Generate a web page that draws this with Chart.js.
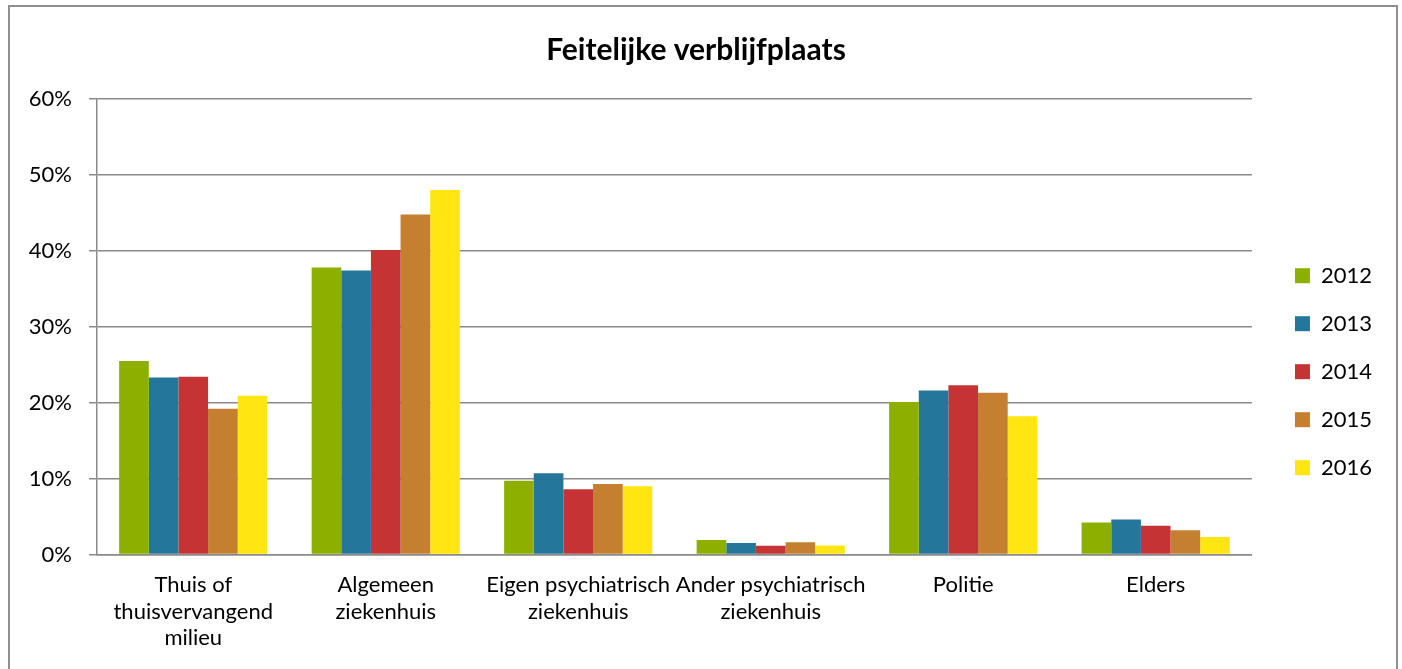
<!DOCTYPE html>
<html>
<head>
<meta charset="utf-8">
<script src="https://cdn.jsdelivr.net/npm/chart.js@4/dist/chart.umd.min.js"></script>
<style>
  html, body { margin: 0; padding: 0; background: #fff; }
  #wrap { position: relative; width: 1402px; height: 669px; overflow: hidden; }
  #frame { position: absolute; left: 8px; top: 5px; width: 1390px; height: 680px; border: 2px solid #8f8f8f; box-sizing: border-box; pointer-events: none; }
  canvas { position: absolute; left: 0; top: 0; }
</style>
</head>
<body>
<div id="wrap">
  <canvas id="chart" width="1402" height="669"></canvas>
  <div id="frame"></div>
</div>
<script>
// categorieën (x-as)
const categories = [
    ['Thuis of', 'thuisvervangend', 'milieu'],
    ['Algemeen', 'ziekenhuis'],
    ['Eigen psychiatrisch', 'ziekenhuis'],
    ['Ander psychiatrisch', 'ziekenhuis'],
    'Politie',
    'Elders'
];

// jaren en waarden (procent)
const years = ['2012', '2013', '2014', '2015', '2016'];
const v2012 = [25.5, 37.8, 9.7, 1.9, 20.1, 4.2];
const v2013 = [23.3, 37.4, 10.7, 1.5, 21.6, 4.6];
const v2014 = [23.4, 40.1, 8.6, 1.15, 22.3, 3.8];
const v2015 = [19.2, 44.8, 9.3, 1.6, 21.3, 3.2];
const v2016 = [20.9, 48.0, 9.0, 1.2, 18.2, 2.3];

// y-as
const yTicks = [0, 10, 20, 30, 40, 50, 60];

const colors = ['#8db000', '#24779a', '#c63335', '#c47f30', '#ffe512'];
const series = [v2012, v2013, v2014, v2015, v2016];
const gridGrey = '#8a8a8a';

const datasets = years.map((y, i) => ({
    label: y,
    data: series[i],
    backgroundColor: colors[i],
    borderWidth: 0,
    categoryPercentage: 0.77,
    barPercentage: 1.0
}));

new Chart(document.getElementById('chart'), {
    type: 'bar',
    data: { labels: categories, datasets: datasets },
    options: {
        responsive: false,
        animation: false,
        layout: { padding: { left: 10, right: 20, top: 0, bottom: 8 } },
        plugins: {
            title: {
                display: true,
                text: 'Feitelijke verblijfplaats',
                color: '#000',
                font: { family: 'Lato', size: 30, weight: 'bold' },
                padding: { top: 32, bottom: 31 }
            },
            legend: {
                position: 'right',
                align: 'center',
                // lege titel duwt de items omlaag
                title: { display: true, text: '', padding: { top: 0, bottom: 56 }, font: { family: 'Lato', size: 22 } },
                labels: {
                    boxWidth: 15,
                    boxHeight: 15,
                    padding: 26,
                    color: '#000',
                    font: { family: 'Lato', size: 22 }
                }
            },
            tooltip: { enabled: false }
        },
        scales: {
            x: {
                grid: { display: false, drawTicks: false },
                border: { display: true, color: gridGrey, width: 1.5 },
                ticks: {
                    color: '#000',
                    font: { family: 'Lato', size: 22, lineHeight: 1.21 },
                    autoSkip: false,
                    maxRotation: 0,
                    minRotation: 0,
                    padding: 17
                },
                afterFit: s => { s.height = 106.5; }
            },
            y: {
                min: 0,
                max: 60,
                afterBuildTicks: s => { s.ticks = yTicks.map(v => ({ value: v })); },
                grid: { color: gridGrey, lineWidth: 1.5, tickLength: 8 },
                border: { display: true, color: gridGrey, width: 1.5 },
                ticks: {
                    color: '#000',
                    font: { family: 'Lato', size: 22 },
                    padding: 17,
                    callback: v => v + '%'
                },
                afterFit: s => { s.width = 87; }
            },
            // lege as om de legenda iets naar rechts te schuiven
            spacer: {
                type: 'linear',
                position: 'right',
                display: true,
                grid: { display: false, drawTicks: false },
                border: { display: false },
                ticks: { display: false },
                afterFit: s => { s.width = 17; }
            }
        }
    }
});
</script>
</body>
</html>
